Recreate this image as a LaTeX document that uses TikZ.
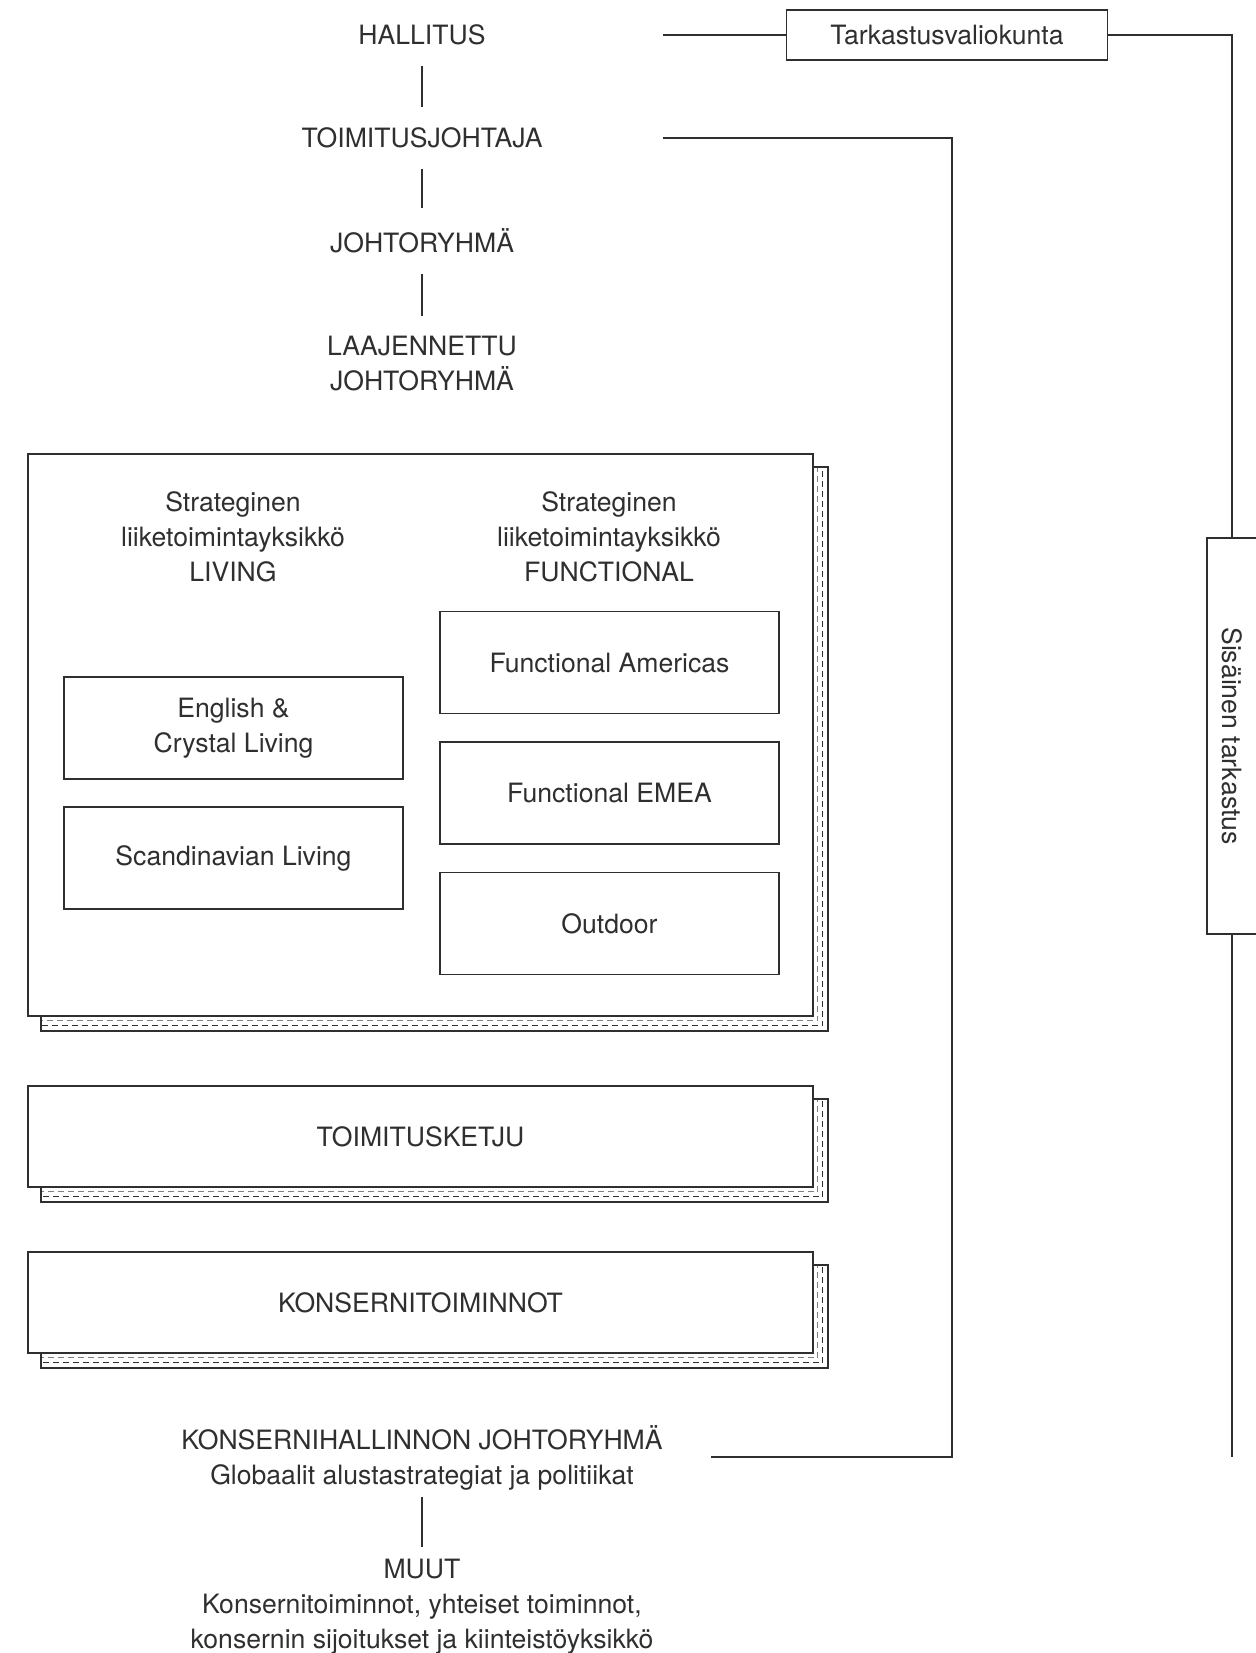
\documentclass[tikz,border=0pt]{standalone}
\usepackage{fontspec}
\setmainfont{TeX Gyre Heros}
\usetikzlibrary{positioning,backgrounds}

\definecolor{ink}{HTML}{2F2F2F}
\newcommand{\orgfont}{\fontsize{13.3}{17.5}\selectfont}

% stacked-sheet shadow behind a panel
\newcommand{\stackshadow}[1]{%
  \draw[link] ([shift={(14,14)}]#1.north west) rectangle ([shift={(14,14)}]#1.south east);
  \draw[hatchline=gray] ([shift={(14,14)}]#1.north west) rectangle ([shift={(4,4)}]#1.south east);
  \draw[hatchline=ink] ([shift={(14,14)}]#1.north west) rectangle ([shift={(9,9)}]#1.south east);
}

\begin{document}
\begin{tikzpicture}[
    x=0.5pt, y=-0.5pt,
    lbl/.style={font=\orgfont, align=center, inner sep=0pt, text=ink},
    unit/.style={rectangle, draw=ink, line width=0.9pt, fill=white, font=\orgfont, align=center, text=ink, minimum width=169.5pt, minimum height=51pt},
    panel/.style={rectangle, draw=ink, line width=0.9pt, fill=white, font=\orgfont, text=ink, minimum width=392.5pt, minimum height=50.5pt},
    link/.style={draw=ink, line width=0.9pt},
    stem/.style={link, shorten <=10pt, shorten >=10pt},
    hatchline/.style={draw=#1, line width=0.5pt, dash pattern=on 3pt off 2pt}
]
\useasboundingbox (0,0) rectangle (1256,1653);

% Hierarchy
\node[lbl] (board) at (422,35) {HALLITUS};
\node[lbl] (ceo) at (422,138) {TOIMITUSJOHTAJA};
\node[lbl] (mgmt) at (422,241) {JOHTORYHMÄ};
\node[lbl] (extmgmt) at (422,364) {LAAJENNETTU\\JOHTORYHMÄ};

% Audit
\node[unit, minimum width=160.5pt, minimum height=25pt] (audit) at (947,35) {Tarkastusvaliokunta};
\node[unit, rotate=-90, minimum width=198pt, minimum height=25pt] (internal) at (1232,736) {Sisäinen tarkastus};

% Business units
\node[panel, minimum height=281pt] (units) at (420.5,735) {};
\node[lbl] (livinghead) at (233,537) {Strateginen\\liiketoimintayksikkö\\LIVING};
\node[lbl] (funchead) at (609,537) {Strateginen\\liiketoimintayksikkö\\FUNCTIONAL};
\node[unit] (english) at (233.5,728) {English \&\\Crystal Living};
\node[unit] (scandi) at (233.5,858) {Scandinavian Living};
\node[unit] (americas) at (609.5,662.5) {Functional Americas};
\node[unit] (emea) at (609.5,793) {Functional EMEA};
\node[unit] (outdoor) at (609.5,923.5) {Outdoor};

% Functions
\node[panel] (supply) at (420.5,1136.5) {TOIMITUSKETJU};
\node[panel] (groupfn) at (420.5,1302.5) {KONSERNITOIMINNOT};

% Bottom
\node[lbl] (groupmgmt) at (422,1458) {KONSERNIHALLINNON JOHTORYHMÄ\\Globaalit alustastrategiat ja politiikat};
\node[lbl] (other) at (422,1607) {MUUT\\Konsernitoiminnot, yhteiset toiminnot,\\konsernin sijoitukset ja kiinteistöyksikkö};

% Shadows
\begin{scope}[on background layer]
    \stackshadow{units}
    \stackshadow{supply}
    \stackshadow{groupfn}
\end{scope}

% Vertical links
\draw[stem] (board) -- (ceo);
\draw[stem] (ceo) -- (mgmt);
\draw[stem] (mgmt) -- (extmgmt);
\draw[stem, shorten <=3pt, shorten >=6pt] (groupmgmt) -- (other);

% Reporting lines
\coordinate (boardout) at (663,35);
\coordinate (ceoout) at (663,138);
\coordinate (ceocorner) at (952,1457);
\coordinate (groupin) at (711,1457);
\coordinate (auditend) at (1232,1457);
\draw[link] (boardout) -- (audit.west);
\draw[link] (audit.east) -| (internal.west);
\draw[link] (internal.east) -- (auditend);
\draw[link] (ceoout) -| (ceocorner) -- (groupin);

\end{tikzpicture}
\end{document}
